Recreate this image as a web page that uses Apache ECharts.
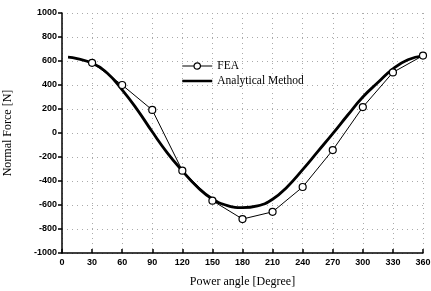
<!DOCTYPE html>
<html>
<head>
<meta charset="utf-8">
<script src="https://cdn.jsdelivr.net/npm/echarts@6/dist/echarts.min.js"></script>
<style>html,body{margin:0;padding:0;background:#fff;}#c{width:431px;height:291px;}</style>
</head>
<body>
<div id="c"></div>
<script>
const feaAngles = [30, 60, 90, 120, 150, 180, 210, 240, 270, 300, 330, 360];
const feaValues = [585, 400, 192, -314, -564, -717, -657, -450, -142, 216, 505, 645];
const anaAngles = [6, 15, 30, 45, 60, 75, 90, 105, 120, 135, 150, 165, 180, 195, 210, 225, 240, 255, 270, 285, 300, 315, 330, 345, 360];
const anaValues = [632, 620, 582, 500, 360, 195, 10, -165, -315, -450, -550, -605, -622, -607, -552, -445, -305, -155, -5, 150, 300, 420, 535, 610, 642];
const xTicks = [0, 30, 60, 90, 120, 150, 180, 210, 240, 270, 300, 330, 360];
const yTicks = [-1000, -800, -600, -400, -200, 0, 200, 400, 600, 800, 1000];

const chart = echarts.init(document.getElementById('c'), null, {renderer: 'canvas'});
const tickFont = {fontFamily: 'Liberation Sans', fontWeight: 'bold', fontSize: 9, color: '#000'};
const gridLine = {show: true, lineStyle: {type: [1, 4], color: '#aaa', width: 1}};
const titleFont = {fontFamily: 'Liberation Serif', fontSize: 12, color: '#000'};
chart.setOption({
  animation: false,
  backgroundColor: '#fff',
  grid: {left: 62, right: 8, top: 13, bottom: 38, containLabel: false, outerBoundsMode: 'none'},
  legend: {
    orient: 'vertical', left: 176, top: 55, itemWidth: 30, itemHeight: 8, itemGap: 3,
    textStyle: {fontFamily: 'Liberation Serif', fontSize: 11.5, color: '#000'},
    data: [
      {name: 'FEA', lineStyle: {width: 1, color: '#000'}, itemStyle: {color: '#fff', borderColor: '#000', borderWidth: 1.2}},
      {name: 'Analytical Method', lineStyle: {width: 2.5, color: '#000'}, itemStyle: {opacity: 0}}
    ]
  },
  xAxis: {
    type: 'value', min: xTicks[0], max: xTicks[xTicks.length - 1], interval: 30,
    axisLine: {show: true, onZero: false, lineStyle: {color: '#000', width: 1.5}},
    axisTick: {show: true, inside: true, length: 4, lineStyle: {color: '#000', width: 1.5}},
    axisLabel: Object.assign({margin: 5}, tickFont),
    splitLine: gridLine,
    name: 'Power angle [Degree]', nameLocation: 'middle', nameGap: 23,
    nameTextStyle: titleFont
  },
  yAxis: {
    type: 'value', min: yTicks[0], max: yTicks[yTicks.length - 1], interval: 200,
    axisLine: {show: true, onZero: false, lineStyle: {color: '#000', width: 1.5}},
    axisTick: {show: true, inside: false, length: 4, lineStyle: {color: '#000', width: 1.5}},
    axisLabel: Object.assign({margin: 5, formatter: v => String(v)}, tickFont),
    splitLine: gridLine,
    name: 'Normal Force [N]', nameLocation: 'middle', nameGap: 48, nameRotate: 90,
    nameTextStyle: titleFont
  },
  series: [
    {
      name: 'FEA', type: 'line',
      data: feaAngles.map((a, i) => [a, feaValues[i]]),
      symbol: 'circle', symbolSize: 7,
      itemStyle: {color: '#fff', borderColor: '#000', borderWidth: 1.2},
      lineStyle: {color: '#000', width: 1}, z: 3
    },
    {
      name: 'Analytical Method', type: 'line',
      data: anaAngles.map((a, i) => [a, anaValues[i]]),
      smooth: 0.5, showSymbol: false, symbol: 'none',
      itemStyle: {color: '#000'},
      lineStyle: {color: '#000', width: 2.8}, z: 2
    }
  ]
});
</script>
</body>
</html>
